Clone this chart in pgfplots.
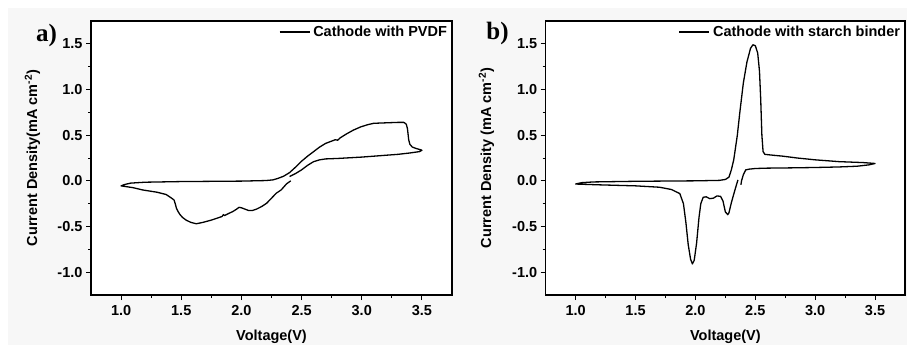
\documentclass[border=0pt]{standalone}
\usepackage{pgfplots}
\pgfplotsset{compat=1.18}
\usepackage{fontspec}
\setmainfont{Liberation Sans}
\newfontfamily\serifbold{Liberation Serif}

\pgfplotsset{
  cvstyle/.style={
    scale only axis, height=274pt,
    anchor=south west, clip mode=individual,
    xmin=0.75, xmax=3.75, ymin=-1.25, ymax=1.75,
    xtick={1,1.5,2,2.5,3,3.5}, ytick={-1,-0.5,0,0.5,1,1.5},
    minor x tick num=1, minor y tick num=1,
    tick pos=left, tick align=outside,
    major tick length=5pt, minor tick length=3pt,
    axis line style={line width=1.1pt, black},
    every tick/.style={line width=1pt, black},
    axis background/.style={fill=white},
    ticklabel style={font=\bfseries\fontsize{14.5}{16}\selectfont},
    xticklabel style={yshift=-2pt},
    /pgf/number format/assume math mode=true,
    /pgf/number format/fixed, /pgf/number format/fixed zerofill,
    /pgf/number format/precision=1,
    label style={font=\bfseries\fontsize{14.5}{16}\selectfont},
    xlabel style={at={(axis description cs:0.5,0)}, anchor=center, yshift=-42pt},
    legend style={draw=none, fill=none, at={(1,1)}, anchor=north east,
      xshift=-5pt, yshift=-5pt, inner sep=0pt, outer sep=0pt,
      nodes={inner sep=0pt},
      font=\bfseries\fontsize{14.5}{16}\selectfont,
      /tikz/every odd column/.style={column sep=3pt}},
    legend image code/.code={\draw[#1, line width=1.3pt] (0pt,0pt) -- (30pt,0pt);},
  }
}

\begin{document}
\begin{tikzpicture}[x=1pt,y=1pt]
\useasboundingbox (0,0) rectangle (907,351);
\fill[black!3] (8,6) rectangle (907,343);

\begin{axis}[cvstyle, at={(91pt,56pt)}, width=361pt,
  xlabel={Voltage(V)},
  ylabel={Current Density(mA cm\textsuperscript{-2})},
  ylabel style={at={(axis description cs:-0.162,0.5)}, anchor=center},
]
\addplot[black, line width=1.3pt, line join=round] coordinates {
(2.41,0.00) (2.375,-0.033) (2.33,-0.10) (2.29,-0.135) (2.25,-0.19) (2.21,-0.245)
(2.17,-0.28) (2.125,-0.31) (2.09,-0.325) (2.06,-0.325) (2.03,-0.31) (2.00,-0.295)
(1.98,-0.29) (1.96,-0.31) (1.93,-0.335) (1.89,-0.36) (1.86,-0.38) (1.85,-0.37)
(1.84,-0.39) (1.75,-0.43) (1.68,-0.455) (1.625,-0.47) (1.58,-0.455) (1.54,-0.43)
(1.51,-0.40) (1.49,-0.37) (1.475,-0.34) (1.46,-0.30) (1.45,-0.25) (1.44,-0.21)
(1.42,-0.19) (1.375,-0.15) (1.30,-0.125) (1.18,-0.10) (1.10,-0.075) (1.00,-0.055)
(1.03,-0.04) (1.08,-0.025) (1.20,-0.015) (1.50,-0.008) (2.00,-0.003) (2.20,0.003)
(2.26,0.01) (2.30,0.025) (2.35,0.05) (2.40,0.09) (2.45,0.15) (2.50,0.215)
(2.55,0.27) (2.60,0.32) (2.65,0.37) (2.70,0.41) (2.75,0.435) (2.78,0.45)
(2.80,0.445) (2.82,0.47) (2.875,0.515) (2.93,0.555) (2.99,0.59) (3.05,0.615)
(3.10,0.63) (3.20,0.635) (3.30,0.64) (3.35,0.64) (3.37,0.62) (3.38,0.57)
(3.39,0.45) (3.40,0.40) (3.42,0.37) (3.45,0.355) (3.49,0.34) (3.50,0.335)
(3.48,0.32) (3.40,0.305) (3.30,0.29) (3.20,0.28) (3.00,0.26) (2.80,0.245)
(2.70,0.24) (2.65,0.23) (2.60,0.21) (2.55,0.17) (2.50,0.12) (2.45,0.08) (2.40,0.047)
};
\addlegendentry{Cathode with PVDF}
\node[font=\serifbold\bfseries\fontsize{25}{27}\selectfont, anchor=base] at (axis description cs:-0.123,0.924) {a)};
\end{axis}

\begin{axis}[cvstyle, at={(545.7pt,56pt)}, width=359.3pt,
  xlabel={Voltage(V)},
  ylabel={Current Density (mA cm\textsuperscript{-2})},
  ylabel style={at={(axis description cs:-0.165,0.5)}, anchor=center},
]
\addplot[black, line width=1.3pt, line join=round] coordinates {
(2.355,0.01) (2.33,-0.10) (2.30,-0.24) (2.28,-0.35) (2.27,-0.37) (2.25,-0.34)
(2.23,-0.22) (2.21,-0.17) (2.18,-0.165) (2.15,-0.19) (2.12,-0.195) (2.09,-0.175)
(2.065,-0.18) (2.045,-0.25) (2.03,-0.40) (2.01,-0.68) (1.99,-0.87) (1.975,-0.91)
(1.96,-0.86) (1.94,-0.70) (1.92,-0.45) (1.90,-0.25) (1.87,-0.14) (1.80,-0.095)
(1.70,-0.07) (1.50,-0.055) (1.20,-0.044) (1.00,-0.035)
(1.05,-0.02) (1.15,-0.012) (1.50,-0.005) (2.00,0.00) (2.20,0.005) (2.25,0.015)
(2.28,0.04) (2.30,0.12) (2.32,0.23) (2.35,0.50) (2.37,0.74) (2.40,1.07)
(2.43,1.30) (2.46,1.45) (2.48,1.49) (2.50,1.48) (2.52,1.40) (2.535,1.20)
(2.545,0.90) (2.555,0.50) (2.565,0.32) (2.58,0.29) (2.65,0.28) (2.73,0.27)
(2.85,0.25) (3.00,0.23) (3.20,0.21) (3.40,0.20) (3.50,0.19)
(3.45,0.175) (3.35,0.16) (3.20,0.152) (3.00,0.146) (2.80,0.142) (2.60,0.139)
(2.50,0.135) (2.45,0.128) (2.42,0.12) (2.40,0.066) (2.385,0.00) (2.38,-0.044)
};
\addlegendentry{Cathode with starch binder}
\node[font=\serifbold\bfseries\fontsize{25}{27}\selectfont, anchor=base] at (axis description cs:-0.134,0.931) {b)};
\end{axis}
\end{tikzpicture}
\end{document}
